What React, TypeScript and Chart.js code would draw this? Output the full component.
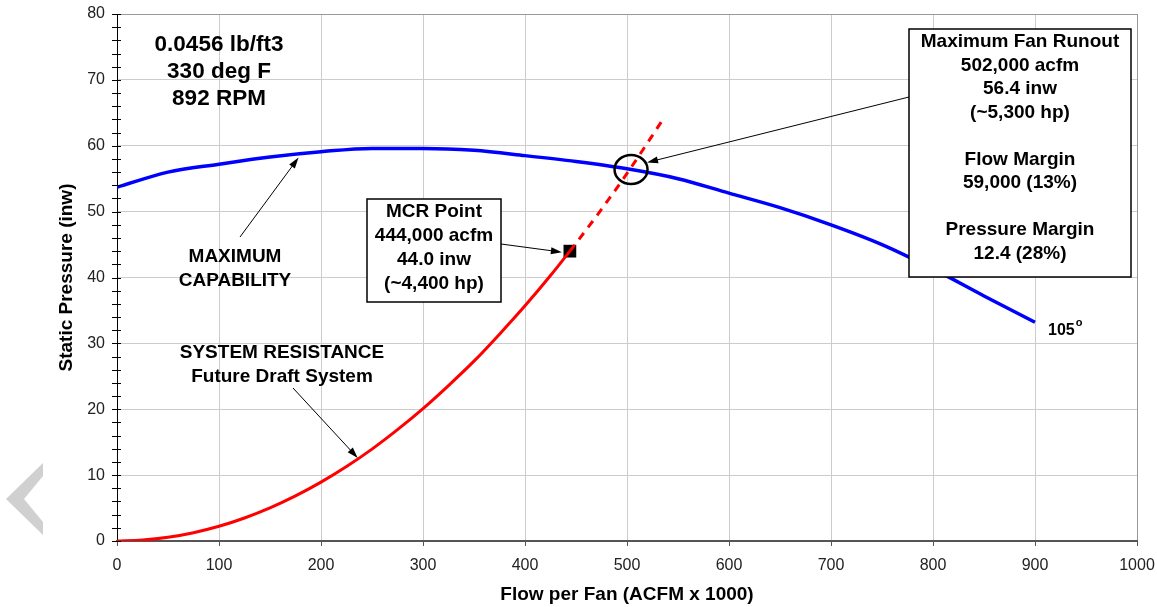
import React, { useEffect, useRef } from "react";
import { Chart, registerables } from "chart.js";

Chart.register(...registerables);

// ---- data ----
const fanFlow = [0, 50, 100, 150, 200, 250, 300, 350, 400, 450, 500, 550, 600, 650, 700, 750, 800, 850, 900];
const fanPressure = [53.7, 56.0, 57.2, 58.3, 59.1, 59.6, 59.6, 59.3, 58.5, 57.6, 56.5, 55.0, 52.8, 50.6, 48.0, 45.0, 41.3, 37.2, 33.2];

const systemFlow = [0, 25, 50, 75, 100, 125, 150, 175, 200, 225, 250, 275, 300, 325, 350, 375, 400, 425, 444];
const systemPressure = [0, 0.14, 0.56, 1.26, 2.23, 3.49, 5.02, 6.84, 8.93, 11.3, 13.95, 16.9, 20.1, 23.6, 27.3, 31.4, 35.7, 40.3, 44.0];

const runoutFlow = [444, 470, 500, 537];
const runoutPressure = [44.0, 49.3, 55.8, 64.4];

const mcrFlow = [444];
const mcrPressure = [44.0];

const runoutPoint = { flow: 502, pressure: 56.4 };

const conditionLines = ["0.0456 lb/ft3", "330 deg F", "892 RPM"];
const capabilityLines = ["MAXIMUM", "CAPABILITY"];
const systemLines = ["SYSTEM RESISTANCE", "Future Draft System"];
const mcrLines = ["MCR Point", "444,000 acfm", "44.0 inw", "(~4,400 hp)"];
const runoutLines = ["Maximum Fan Runout", "502,000 acfm", "56.4 inw", "(~5,300 hp)", "", "Flow Margin", "59,000 (13%)", "", "Pressure Margin", "12.4 (28%)"];
const curveLabel = "105";

const xTitle = "Flow per Fan (ACFM x 1000)";
const yTitle = "Static Pressure (inw)";

const FONT = '"Liberation Sans", Arial, Helvetica, sans-serif';

const toPts = (xs: number[], ys: number[]) => xs.map((x, i) => ({ x, y: ys[i] }));

function arrow(ctx: CanvasRenderingContext2D, x1: number, y1: number, x2: number, y2: number) {
  const head = 11;
  const w = 3.5;
  const a = Math.atan2(y2 - y1, x2 - x1);
  const c = Math.cos(a), s = Math.sin(a);
  ctx.beginPath();
  ctx.moveTo(x1, y1);
  ctx.lineTo(x2 - head * 0.8 * c, y2 - head * 0.8 * s);
  ctx.stroke();
  ctx.beginPath();
  ctx.moveTo(x2, y2);
  ctx.lineTo(x2 - head * c + w * s, y2 - head * s - w * c);
  ctx.lineTo(x2 - head * c - w * s, y2 - head * s + w * c);
  ctx.closePath();
  ctx.fill();
}

function lines(ctx: CanvasRenderingContext2D, arr: string[], cx: number, y0: number, dy: number) {
  arr.forEach((t, i) => {
    if (t) ctx.fillText(t, cx, y0 + i * dy);
  });
}

const annotations = {
  id: "annotations",
  beforeDraw(chart: any) {
    const ctx = chart.ctx;
    ctx.save();
    ctx.fillStyle = "#ffffff";
    ctx.fillRect(0, 0, chart.width, chart.height);
    // decorative chevron
    ctx.fillStyle = "#d0d0d0";
    ctx.beginPath();
    ctx.moveTo(43, 463);
    ctx.lineTo(6, 499);
    ctx.lineTo(43, 535);
    ctx.lineTo(43, 522);
    ctx.lineTo(24, 499);
    ctx.lineTo(43, 476);
    ctx.closePath();
    ctx.fill();
    ctx.restore();
  },
  afterDatasetsDraw(chart: any) {
    const ctx: CanvasRenderingContext2D = chart.ctx;
    const xs = chart.scales.x;
    const ys = chart.scales.y;
    const area = chart.chartArea;
    ctx.save();

    // y-axis ticks (major + minor) crossing the axis
    ctx.strokeStyle = "#000";
    ctx.lineWidth = 1;
    for (let v = 0; v <= 80; v += 2) {
      const py = Math.round(ys.getPixelForValue(v)) + 0.5;
      ctx.beginPath();
      ctx.moveTo(area.left - 5, py);
      ctx.lineTo(area.left + 4, py);
      ctx.stroke();
    }

    ctx.fillStyle = "#000";
    ctx.textAlign = "center";
    ctx.textBaseline = "middle";

    // conditions text
    ctx.font = `bold 22.5px ${FONT}`;
    lines(ctx, conditionLines, 219, 45, 27);

    // maximum capability
    ctx.font = `bold 19px ${FONT}`;
    lines(ctx, capabilityLines, 235, 257, 24);
    lines(ctx, systemLines, 282, 353, 24);

    // arrows
    ctx.lineWidth = 1;
    ctx.strokeStyle = "#000";
    arrow(ctx, 240, 237, xs.getPixelForValue(178), ys.getPixelForValue(58.2));
    arrow(ctx, 293, 388, xs.getPixelForValue(236), ys.getPixelForValue(12.6));

    // runout circle
    ctx.lineWidth = 2.5;
    ctx.beginPath();
    ctx.ellipse(xs.getPixelForValue(runoutPoint.flow) + 2, ys.getPixelForValue(runoutPoint.pressure), 16.5, 14.5, 0, 0, Math.PI * 2);
    ctx.stroke();

    // MCR box
    ctx.lineWidth = 1.5;
    ctx.fillStyle = "#fff";
    ctx.fillRect(367, 199, 134, 103);
    ctx.strokeRect(367, 199, 134, 103);
    ctx.fillStyle = "#000";
    ctx.font = `bold 19px ${FONT}`;
    lines(ctx, mcrLines, 434, 212, 24);
    ctx.lineWidth = 1;
    arrow(ctx, 501, 244, xs.getPixelForValue(mcrFlow[0]) - 8, ys.getPixelForValue(mcrPressure[0]) + 1);

    // runout box
    ctx.lineWidth = 1.5;
    ctx.fillStyle = "#fff";
    ctx.fillRect(909, 29, 222, 248);
    ctx.strokeRect(909, 29, 222, 248);
    ctx.fillStyle = "#000";
    lines(ctx, runoutLines, 1020, 42, 23.5);
    ctx.lineWidth = 1;
    arrow(ctx, 909, 97, xs.getPixelForValue(runoutPoint.flow) + 18, ys.getPixelForValue(runoutPoint.pressure) - 7);

    // 105 deg label
    ctx.textAlign = "left";
    ctx.font = `bold 16px ${FONT}`;
    ctx.fillText(curveLabel, 1048, 331);
    const w = ctx.measureText(curveLabel).width;
    ctx.font = `bold 11px ${FONT}`;
    ctx.fillText("o", 1048 + w + 1, 323);

    // axis titles
    ctx.textAlign = "center";
    ctx.font = `bold 19px ${FONT}`;
    ctx.fillText(xTitle, (area.left + area.right) / 2, 595);
    ctx.translate(67, (area.top + area.bottom) / 2);
    ctx.rotate(-Math.PI / 2);
    ctx.fillText(yTitle, 0, 0);

    ctx.restore();
  },
};

const zeroPad = (s: any) => {
  s.paddingTop = 0;
  s.paddingBottom = 0;
  s.paddingLeft = 0;
  s.paddingRight = 0;
};

export default function App() {
  const ref = useRef<HTMLCanvasElement | null>(null);

  useEffect(() => {
    if (!ref.current) return;
    const chart = new Chart(ref.current, {
      type: "scatter",
      data: {
        datasets: [
          {
            data: toPts(fanFlow, fanPressure),
            showLine: true,
            borderColor: "#0000ff",
            borderWidth: 3.5,
            pointRadius: 0,
            cubicInterpolationMode: "monotone",
          },
          {
            data: toPts(systemFlow, systemPressure),
            showLine: true,
            borderColor: "#ff0000",
            borderWidth: 3,
            pointRadius: 0,
            cubicInterpolationMode: "monotone",
          },
          {
            data: toPts(runoutFlow, runoutPressure),
            showLine: true,
            borderColor: "#ff0000",
            borderWidth: 3,
            borderDash: [8, 7],
            pointRadius: 0,
            cubicInterpolationMode: "monotone",
          },
          {
            data: toPts(mcrFlow, mcrPressure),
            pointStyle: "rect",
            pointRadius: 9,
            backgroundColor: "#000",
            borderColor: "#000",
            borderWidth: 0,
          },
        ],
      },
      options: {
        animation: false,
        responsive: false,
        devicePixelRatio: 1,
        layout: { padding: { left: 0, right: 20, top: 14, bottom: 0 } },
        plugins: { legend: { display: false }, tooltip: { enabled: false } },
        events: [],
        scales: {
          x: {
            type: "linear",
            min: 0,
            max: 1000,
            afterFit: (s: any) => {
              s.height = 66;
              zeroPad(s);
            },
            ticks: {
              stepSize: 100,
              color: "#222",
              font: { size: 16, family: FONT },
              padding: 10,
              callback: (v: any) => String(v),
            },
            grid: {
              color: (c: any) => (c.tick && c.tick.value === 1000 ? "#999" : "#cccccc"),
              lineWidth: 1,
              drawTicks: true,
              tickLength: 5,
              tickColor: "#555",
            },
            border: { color: "#555", width: 2 },
          },
          y: {
            type: "linear",
            min: 0,
            max: 80,
            afterFit: (s: any) => {
              s.width = 117;
              zeroPad(s);
            },
            ticks: { stepSize: 10, color: "#222", font: { size: 16, family: FONT }, padding: 12 },
            grid: {
              color: (c: any) => (c.tick && c.tick.value === 80 ? "#999" : "#cccccc"),
              lineWidth: 1,
              drawTicks: false,
            },
            border: { color: "#000", width: 1 },
          },
        },
      },
      plugins: [annotations],
    });
    return () => chart.destroy();
  }, []);

  return (
    <div style={{ position: "absolute", left: 0, top: 0, width: 1157, height: 607 }}>
      <canvas ref={ref} width={1157} height={607} />
    </div>
  );
}
